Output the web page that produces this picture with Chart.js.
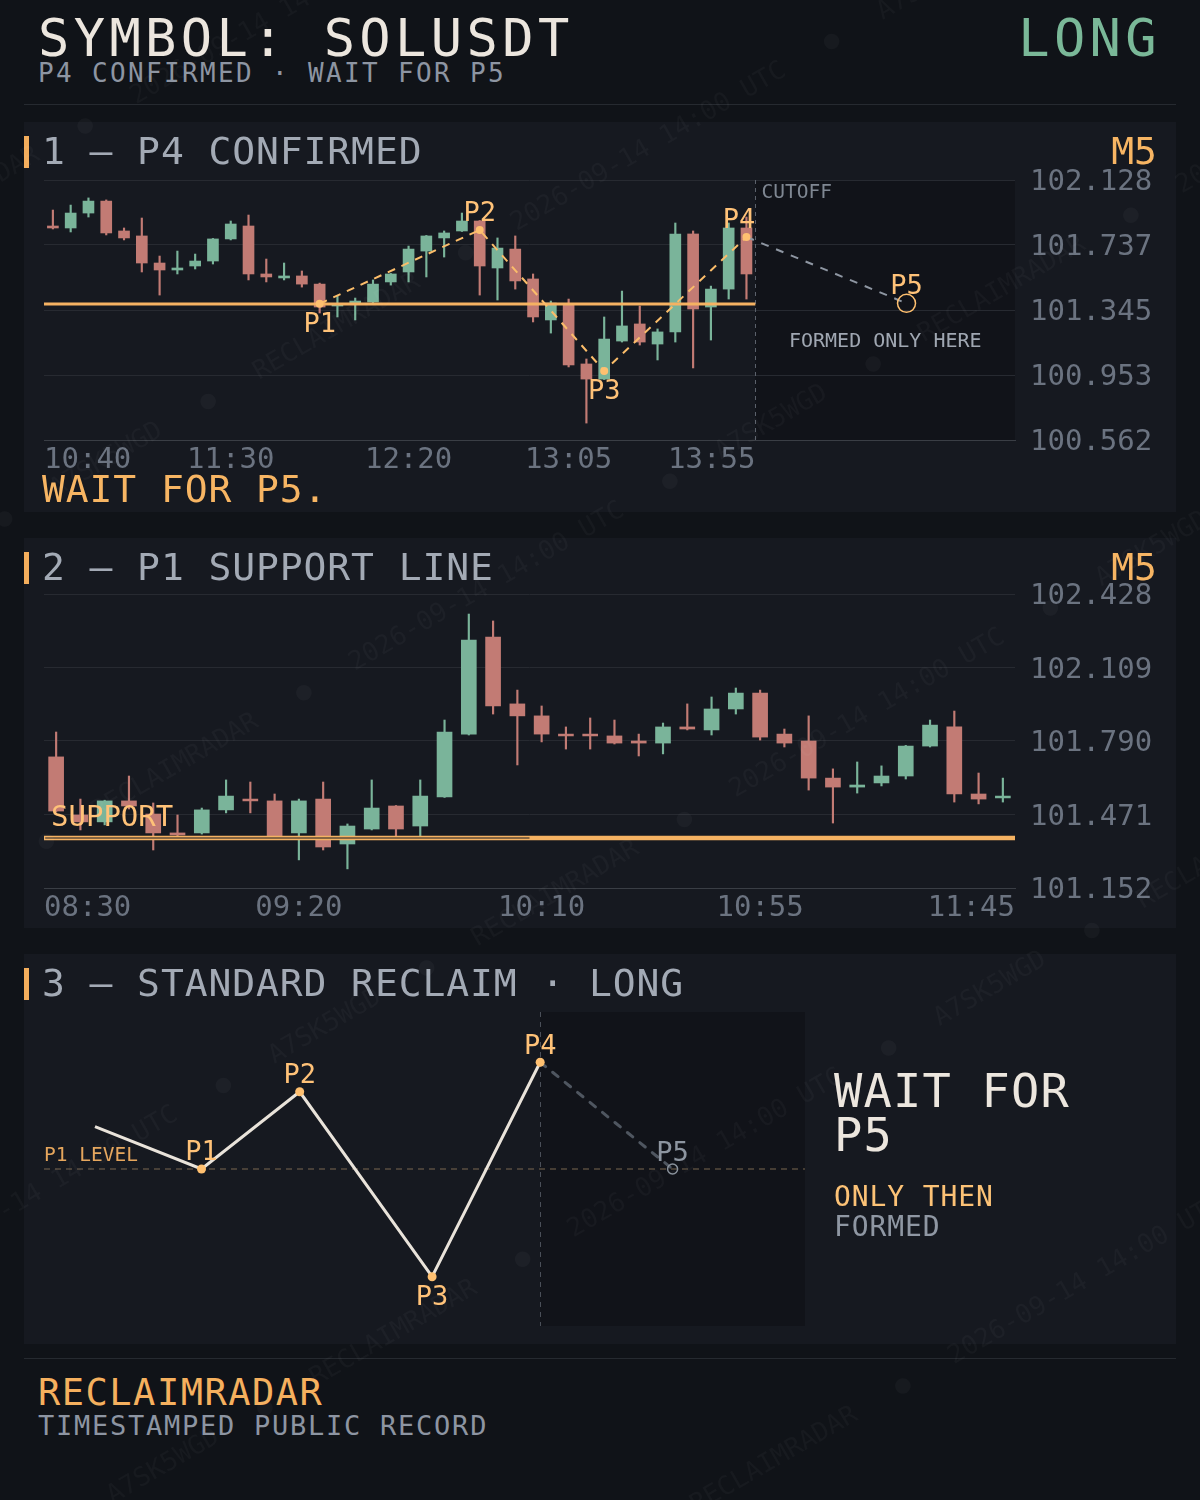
<!DOCTYPE html>
<html>
<head>
<meta charset="utf-8">
<title>SOLUSDT reclaim</title>
<script src="https://cdn.jsdelivr.net/npm/chart.js@4.4.1/dist/chart.umd.min.js"></script>
<style>
  body { margin:0; width:1200px; height:1500px; background:#101318; position:relative; overflow:hidden; font-family:"DejaVu Sans Mono", monospace; }
  .t { position:absolute; white-space:pre; line-height:1; }
  .panel { position:absolute; left:24px; width:1152px; height:390px; background:#161920; }
  .panel canvas { position:absolute; left:0; top:0; }
  .bar { position:absolute; left:24px; width:5px; height:32px; background:#f4ae5c; }
  .rule { position:absolute; left:24px; width:1152px; height:1px; background:#262a30; }
  .title { left:42px; font-size:38px; letter-spacing:0.9px; color:#a3aab5; }
  .tf { right:43px; font-size:38px; color:#f7b563; }
  #wm { position:absolute; left:0; top:0; width:1200px; height:1500px; overflow:hidden; pointer-events:none; }
  #wmInner { position:absolute; left:-700px; top:-500px; width:2600px; transform:rotate(-30deg); transform-origin:1300px 1250px;
             color:rgba(255,255,255,0.03); font-size:26px; line-height:300px; white-space:pre; }
</style>
</head>
<body>

<div class="t" style="left:38px;top:12px;font-size:52px;letter-spacing:4.4px;color:#ece6de">SYMBOL: SOLUSDT</div>
<div class="t" style="left:38px;top:60px;font-size:26px;letter-spacing:2.35px;color:#8d95a2">P4 CONFIRMED · WAIT FOR P5</div>
<div class="t" style="right:39px;top:12px;font-size:52px;letter-spacing:4.4px;color:#7ab898">LONG</div>
<div class="rule" style="top:104px"></div>

<div class="panel" style="top:122px"><canvas id="c1" width="1152" height="390"></canvas></div>
<div class="bar" style="top:136px"></div>
<div class="t title" style="top:132px">1 — P4 CONFIRMED</div>
<div class="t tf" style="top:132px">M5</div>
<div class="t" style="left:42px;top:470px;font-size:38px;letter-spacing:0.9px;color:#f7b563">WAIT FOR P5.</div>

<div class="panel" style="top:538px"><canvas id="c2" width="1152" height="390"></canvas></div>
<div class="bar" style="top:552px"></div>
<div class="t title" style="top:548px">2 — P1 SUPPORT LINE</div>
<div class="t tf" style="top:548px">M5</div>

<div class="panel" style="top:954px"><canvas id="c3" width="1152" height="390"></canvas></div>
<div class="bar" style="top:968px"></div>
<div class="t title" style="top:964px">3 — STANDARD RECLAIM · LONG</div>
<div class="t" style="left:834px;top:1067px;font-size:47px;letter-spacing:1.2px;color:#ece6de">WAIT FOR</div>
<div class="t" style="left:834px;top:1111px;font-size:47px;letter-spacing:1.2px;color:#ece6de">P5</div>
<div class="t" style="left:834px;top:1183px;font-size:28px;letter-spacing:0.9px;color:#fcc276">ONLY THEN</div>
<div class="t" style="left:834px;top:1213px;font-size:28px;letter-spacing:0.9px;color:#8f97a3">FORMED</div>

<div class="rule" style="top:1358px"></div>
<div class="t" style="left:38px;top:1374px;font-size:37px;letter-spacing:1.5px;color:#f5b05e">RECLAIMRADAR</div>
<div class="t" style="left:38px;top:1412px;font-size:27px;letter-spacing:1.75px;color:#8d95a2">TIMESTAMPED PUBLIC RECORD</div>

<div id="wm"><div id="wmInner"></div></div>

<script>
// ---------- panel 1: M5, P4 confirmed ----------
const p1Times = ["10:40","10:45","10:50","10:55","11:00","11:05","11:10","11:15","11:20","11:25",
  "11:30","11:35","11:40","11:45","11:50","11:55","12:00","12:05","12:10","12:15",
  "12:20","12:25","12:30","12:35","12:40","12:45","12:50","12:55","13:00","13:05",
  "13:10","13:15","13:20","13:25","13:30","13:35","13:40","13:45","13:50","13:55"];
const p1Open  = [101.851,101.839,101.929,102.001,101.821,101.791,101.628,101.586,101.610,101.640,
  101.773,101.851,101.562,101.538,101.550,101.501,101.369,101.381,101.393,101.514,
  101.574,101.700,101.779,101.821,101.881,101.598,101.712,101.532,101.285,101.381,
  101.020,100.929,101.158,101.261,101.140,101.213,101.803,101.363,101.471,101.839];
const p1High  = [101.947,101.977,102.020,102.008,101.839,101.899,101.670,101.700,101.682,101.776,
  101.881,101.917,101.652,101.628,101.580,101.507,101.429,101.417,101.526,101.565,
  101.730,101.794,101.821,101.929,101.884,101.779,101.791,101.562,101.399,101.411,
  101.050,101.303,101.459,101.369,101.231,101.869,101.821,101.489,101.869,101.905];
const p1Low   = [101.833,101.815,101.905,101.797,101.767,101.574,101.435,101.562,101.592,101.622,
  101.767,101.526,101.514,101.526,101.483,101.327,101.303,101.285,101.381,101.495,
  101.514,101.544,101.664,101.818,101.435,101.405,101.471,101.273,101.206,101.002,
  100.664,100.926,101.152,101.134,101.044,101.152,100.996,101.164,101.411,101.411];
const p1Close = [101.839,101.929,102.001,101.809,101.779,101.628,101.586,101.598,101.640,101.773,
  101.863,101.562,101.544,101.550,101.501,101.363,101.381,101.399,101.501,101.562,
  101.712,101.791,101.809,101.881,101.610,101.718,101.520,101.303,101.387,101.014,
  100.929,101.170,101.249,101.152,101.213,101.803,101.351,101.471,101.839,101.562];
const p1YTicks = [100.562, 100.953, 101.345, 101.737, 102.128];
const p1XLabels = ["10:40", "11:30", "12:20", "13:05", "13:55"];
const p1Support = 101.381;
const p1PivotNames = ["P1", "P2", "P3", "P4"];
const p1PivotIdx = [15, 24, 31, 39];
const p1PivotPrice = [101.383, 101.827, 100.978, 101.785];
const p1P5Idx = 48;
const p1P5Price = 101.385;

// ---------- panel 2: M5, P1 support line ----------
const p2Times = ["08:30","08:35","08:40","08:45","08:50","08:55","09:00","09:05","09:10","09:15",
  "09:20","09:25","09:30","09:35","09:40","09:45","09:50","09:55","10:00","10:05",
  "10:10","10:15","10:20","10:25","10:30","10:35","10:40","10:45","10:50","10:55",
  "11:00","11:05","11:10","11:15","11:20","11:25","11:30","11:35","11:40","11:45"];
const p2Open  = [101.721,101.469,101.439,101.530,101.473,101.391,101.391,101.491,101.538,101.530,
  101.391,101.538,101.343,101.408,101.508,101.421,101.547,101.820,102.241,101.951,
  101.899,101.820,101.820,101.812,101.790,101.781,101.851,101.838,101.929,101.998,
  101.820,101.790,101.629,101.590,101.608,101.638,101.768,101.851,101.560,101.543];
const p2High  = [101.829,101.538,101.533,101.638,101.521,101.469,101.499,101.621,101.612,101.560,
  101.538,101.612,101.430,101.621,101.510,101.621,101.881,102.341,102.311,102.011,
  101.942,101.851,101.890,101.881,101.820,101.868,101.951,101.981,102.020,102.011,
  101.842,101.899,101.669,101.699,101.682,101.771,101.881,101.920,101.651,101.629];
const p2Low   = [101.482,101.404,101.426,101.495,101.317,101.365,101.386,101.478,101.478,101.365,
  101.274,101.317,101.235,101.404,101.378,101.378,101.545,101.816,101.907,101.686,
  101.786,101.755,101.755,101.777,101.725,101.734,101.838,101.816,101.907,101.794,
  101.764,101.577,101.434,101.564,101.595,101.625,101.764,101.525,101.517,101.525];
const p2Close = [101.486,101.439,101.530,101.508,101.391,101.382,101.491,101.551,101.530,101.378,
  101.530,101.330,101.421,101.499,101.408,101.551,101.829,102.228,101.942,101.899,
  101.820,101.812,101.812,101.781,101.781,101.851,101.842,101.929,101.998,101.807,
  101.781,101.629,101.590,101.599,101.638,101.768,101.859,101.560,101.538,101.551];
const p2YTicks = [101.152, 101.471, 101.790, 102.109, 102.428];
const p2XLabels = ["08:30", "09:20", "10:10", "10:55", "11:45"];
const p2Support = 101.369;

// ---------- panel 3: standard reclaim schematic ----------
const s3Names = ["", "P1", "P2", "P3", "P4"];
const s3X = [6.7, 20.7, 33.6, 51.0, 65.2];
const s3Y = [63.5, 50, 74.6, 15.7, 84.0];
const s3P5X = 82.6;
const s3P5Y = 50;
const s3Level = 50;

const FONT = '"DejaVu Sans Mono", monospace';
const GREEN = "#7ab49a";
const RED = "#c27b74";
const ORANGE = "#f5b262";
const LABEL = "#ffc278";
const TICK = "#6b7380";

Chart.defaults.font.family = FONT;
Chart.defaults.animation = false;

function text(ctx, s, x, yMid, size, color, align) {
  ctx.save();
  ctx.font = size + "px " + FONT;
  ctx.fillStyle = color;
  ctx.textAlign = align || "left";
  ctx.textBaseline = "alphabetic";
  ctx.fillText(s, x, yMid + size * 0.365);
  ctx.restore();
}

// time labels under the chart, kept inside [left, limitRight]
function timeLabels(chart, times, shown, limitRight) {
  const { ctx, chartArea, scales: { x } } = chart;
  ctx.save();
  ctx.font = "29px " + FONT;
  shown.forEach((t) => {
    const w = ctx.measureText(t).width;
    let left = x.getPixelForValue(times.indexOf(t)) - w / 2;
    left = Math.max(chartArea.left, Math.min(left, limitRight - w));
    text(ctx, t, left, chartArea.bottom + 17, 29, TICK);
  });
  ctx.restore();
}

function candles(open, high, low, close, bodyW) {
  const col = open.map((o, i) => (close[i] >= o ? GREEN : RED));
  return [
    { type: "bar", data: open.map((o, i) => ({ x: i, y: [low[i], high[i]] })),
      backgroundColor: col, barThickness: 1.5, grouped: false, order: 6 },
    { type: "bar", data: open.map((o, i) => ({ x: i, y: [o, close[i]] })),
      backgroundColor: col, barThickness: bodyW, grouped: false, order: 5 },
  ];
}

function priceAxis(min, max, ticks) {
  return {
    position: "right", min: min, max: max,
    afterBuildTicks: (s) => { s.ticks = ticks.map((v) => ({ value: v })); },
    afterFit: (s) => { s.width = 161; },
    ticks: { color: TICK, font: { size: 29 }, padding: 15, labelOffset: 2.5,
             callback: (v) => Number(v).toFixed(3) },
    grid: { color: "#272a31", drawTicks: false },
    border: { display: false },
  };
}

// ---------- chart 1 ----------
const cut1 = p1Open.length - 0.5;
const marks1 = {
  id: "marks1",
  beforeDraw(chart) {
    const { ctx, chartArea: a, scales: { x } } = chart;
    const cx = x.getPixelForValue(cut1);
    ctx.save();
    ctx.fillStyle = "rgba(0,0,0,0.22)";
    ctx.fillRect(cx, a.top, a.right - cx, a.bottom - a.top);
    ctx.restore();
  },
  beforeDatasetsDraw(chart) {
    const { ctx, chartArea: a, scales: { x, y } } = chart;
    const cx = Math.round(x.getPixelForValue(cut1)) + 0.5;
    ctx.save();
    ctx.strokeStyle = "#5b616b";
    ctx.lineWidth = 1;
    ctx.setLineDash([4, 4]);
    ctx.beginPath();
    ctx.moveTo(cx, a.top);
    ctx.lineTo(cx, a.bottom);
    ctx.stroke();
    ctx.restore();
    text(ctx, "CUTOFF", cx + 6, a.top + 11, 19.5, "#7f8792");
    text(ctx, "FORMED ONLY HERE", (cx + a.right) / 2, y.getPixelForValue(101.164), 20, "#a0a7b2", "center");
  },
  afterDatasetsDraw(chart) {
    const { ctx, scales: { x, y } } = chart;
    const cx = x.getPixelForValue(cut1);
    ctx.save();
    ctx.font = "27px " + FONT;
    p1PivotNames.forEach((n, i) => {
      const px = x.getPixelForValue(p1PivotIdx[i]);
      const py = y.getPixelForValue(p1PivotPrice[i]);
      const other = p1PivotPrice[i === 0 ? 1 : i - 1];
      const above = p1PivotPrice[i] > other;
      const w = ctx.measureText(n).width;
      const mid = Math.min(px, cx - w / 2);
      text(ctx, n, mid, above ? py - 19 : py + 18, 27, LABEL, "center");
    });
    text(ctx, "P5", x.getPixelForValue(p1P5Idx), y.getPixelForValue(p1P5Price) - 19, 27, LABEL, "center");
    ctx.restore();
  },
  afterDraw(chart) {
    timeLabels(chart, p1Times, p1XLabels, chart.scales.x.getPixelForValue(cut1));
  },
};

new Chart(document.getElementById("c1"), {
  type: "bar",
  data: {
    datasets: [
      ...candles(p1Open, p1High, p1Low, p1Close, 11),
      { type: "line", data: [{ x: -0.5, y: p1Support }, { x: cut1, y: p1Support }],
        borderColor: ORANGE, borderWidth: 3, pointRadius: 0, order: 4 },
      { type: "line", data: p1PivotIdx.map((v, i) => ({ x: v, y: p1PivotPrice[i] })),
        borderColor: "#fbbd6a", borderWidth: 2, borderDash: [8, 7], pointRadius: 4,
        pointBackgroundColor: "#ffc070", pointBorderWidth: 0, order: 2 },
      { type: "line", data: [{ x: p1PivotIdx[3], y: p1PivotPrice[3] }, { x: p1P5Idx, y: p1P5Price }],
        borderColor: "#8e96a2", borderWidth: 2, borderDash: [8, 8], pointRadius: 0, order: 3 },
      { type: "line", data: [{ x: p1P5Idx, y: p1P5Price }], showLine: false,
        pointRadius: 9, pointBackgroundColor: "rgba(0,0,0,0)", pointBorderColor: "#ffc070",
        pointBorderWidth: 1.5, order: 1 },
    ],
  },
  options: {
    responsive: false,
    layout: { padding: { left: 20, top: 58, right: 0, bottom: 0 } },
    plugins: { legend: { display: false }, tooltip: { enabled: false } },
    scales: {
      x: { type: "linear", min: -0.5, max: 54.1, offset: false,
           ticks: { display: false }, grid: { display: false },
           border: { display: true, color: "#3a3e45" },
           afterFit: (s) => { s.height = 72; } },
      y: priceAxis(100.562, 102.128, p1YTicks),
    },
  },
  plugins: [marks1],
});

// ---------- chart 2 ----------
const marks2 = {
  id: "marks2",
  afterDatasetsDraw(chart) {
    const { ctx, chartArea: a, scales: { y } } = chart;
    text(ctx, "SUPPORT", a.left + 7, y.getPixelForValue(p2Support) - 22.5, 29, LABEL);
  },
  afterDraw(chart) {
    timeLabels(chart, p2Times, p2XLabels, chart.chartArea.right);
  },
};

new Chart(document.getElementById("c2"), {
  type: "bar",
  data: {
    datasets: [
      ...candles(p2Open, p2High, p2Low, p2Close, 15),
      { type: "line", data: [{ x: -0.5, y: p2Support }, { x: p2Open.length - 0.4, y: p2Support }],
        borderColor: ORANGE, borderWidth: 4.5, pointRadius: 0, order: 3 },
      { type: "line", data: [{ x: -0.45, y: p2Support }, { x: 19.5, y: p2Support }],
        borderColor: "#161920", borderWidth: 1.2, pointRadius: 0, order: 2 },
    ],
  },
  options: {
    responsive: false,
    layout: { padding: { left: 20, top: 56, right: 0, bottom: 0 } },
    plugins: { legend: { display: false }, tooltip: { enabled: false } },
    scales: {
      x: { type: "linear", min: -0.5, max: 39.5, offset: false,
           ticks: { display: false }, grid: { display: false },
           border: { display: true, color: "#3a3e45" },
           afterFit: (s) => { s.height = 40; } },
      y: priceAxis(101.152, 102.428, p2YTicks),
    },
  },
  plugins: [marks2],
});

// ---------- chart 3 ----------
const p4x = s3X[s3X.length - 1];
const marks3 = {
  id: "marks3",
  beforeDraw(chart) {
    const { ctx, chartArea: a, scales: { x } } = chart;
    const cx = x.getPixelForValue(p4x);
    ctx.save();
    ctx.fillStyle = "rgba(0,0,0,0.22)";
    ctx.fillRect(cx, a.top, a.right - cx, a.bottom - a.top);
    ctx.strokeStyle = "#4a4f58";
    ctx.lineWidth = 1;
    ctx.setLineDash([5, 5]);
    ctx.beginPath();
    ctx.moveTo(Math.round(cx) + 0.5, a.top);
    ctx.lineTo(Math.round(cx) + 0.5, a.bottom);
    ctx.stroke();
    ctx.restore();
  },
  afterDatasetsDraw(chart) {
    const { ctx, chartArea: a, scales: { x, y } } = chart;
    text(ctx, "P1 LEVEL", a.left, y.getPixelForValue(s3Level) - 15, 19.5, "#e6a65c");
    s3Names.forEach((n, i) => {
      if (!n) return;
      const low = s3Y[i] === Math.min(...s3Y);
      const py = y.getPixelForValue(s3Y[i]);
      text(ctx, n, x.getPixelForValue(s3X[i]), low ? py + 18 : py - 18.5, 27, LABEL, "center");
    });
    text(ctx, "P5", x.getPixelForValue(s3P5X), y.getPixelForValue(s3P5Y) - 18, 27, "#8d95a0", "center");
  },
};

new Chart(document.getElementById("c3"), {
  type: "line",
  data: {
    datasets: [
      { data: [{ x: 0, y: s3Level }, { x: 100, y: s3Level }], borderColor: "#7a6850",
        borderWidth: 1, borderDash: [6, 5], pointRadius: 0, order: 5 },
      { data: [{ x: p4x, y: s3Y[s3Y.length - 1] }, { x: s3P5X, y: s3P5Y }],
        borderColor: "#4f5660", borderWidth: 3, borderDash: [7, 9], borderCapStyle: "round",
        pointRadius: 0, order: 4 },
      { data: s3X.map((v, i) => ({ x: v, y: s3Y[i] })), borderColor: "#e9e3da", borderWidth: 3,
        pointRadius: s3Names.map((n) => (n ? 4.5 : 0)), pointBackgroundColor: "#ffc070",
        pointBorderWidth: 0, order: 2 },
      { data: [{ x: s3P5X, y: s3P5Y }], showLine: false, pointRadius: 5,
        pointBackgroundColor: "rgba(0,0,0,0)", pointBorderColor: "#8a929c",
        pointBorderWidth: 1.5, order: 1 },
    ],
  },
  options: {
    responsive: false,
    layout: { padding: { left: 20, top: 58, right: 371, bottom: 18 } },
    plugins: { legend: { display: false }, tooltip: { enabled: false } },
    scales: {
      x: { type: "linear", min: 0, max: 100, display: false },
      y: { min: 0, max: 100, display: false },
    },
  },
  plugins: [marks3],
});

// faint diagonal watermark
const wmPhrase = "2026-09-14 14:00 UTC   ●   A7SK5WGD   ●   RECLAIMRADAR   ●   ";
const wmLines = [];
for (let i = 0; i < 10; i++) {
  wmLines.push(" ".repeat((i * 17) % 40) + wmPhrase.repeat(4));
}
document.getElementById("wmInner").textContent = wmLines.join("\n");
</script>
</body>
</html>
